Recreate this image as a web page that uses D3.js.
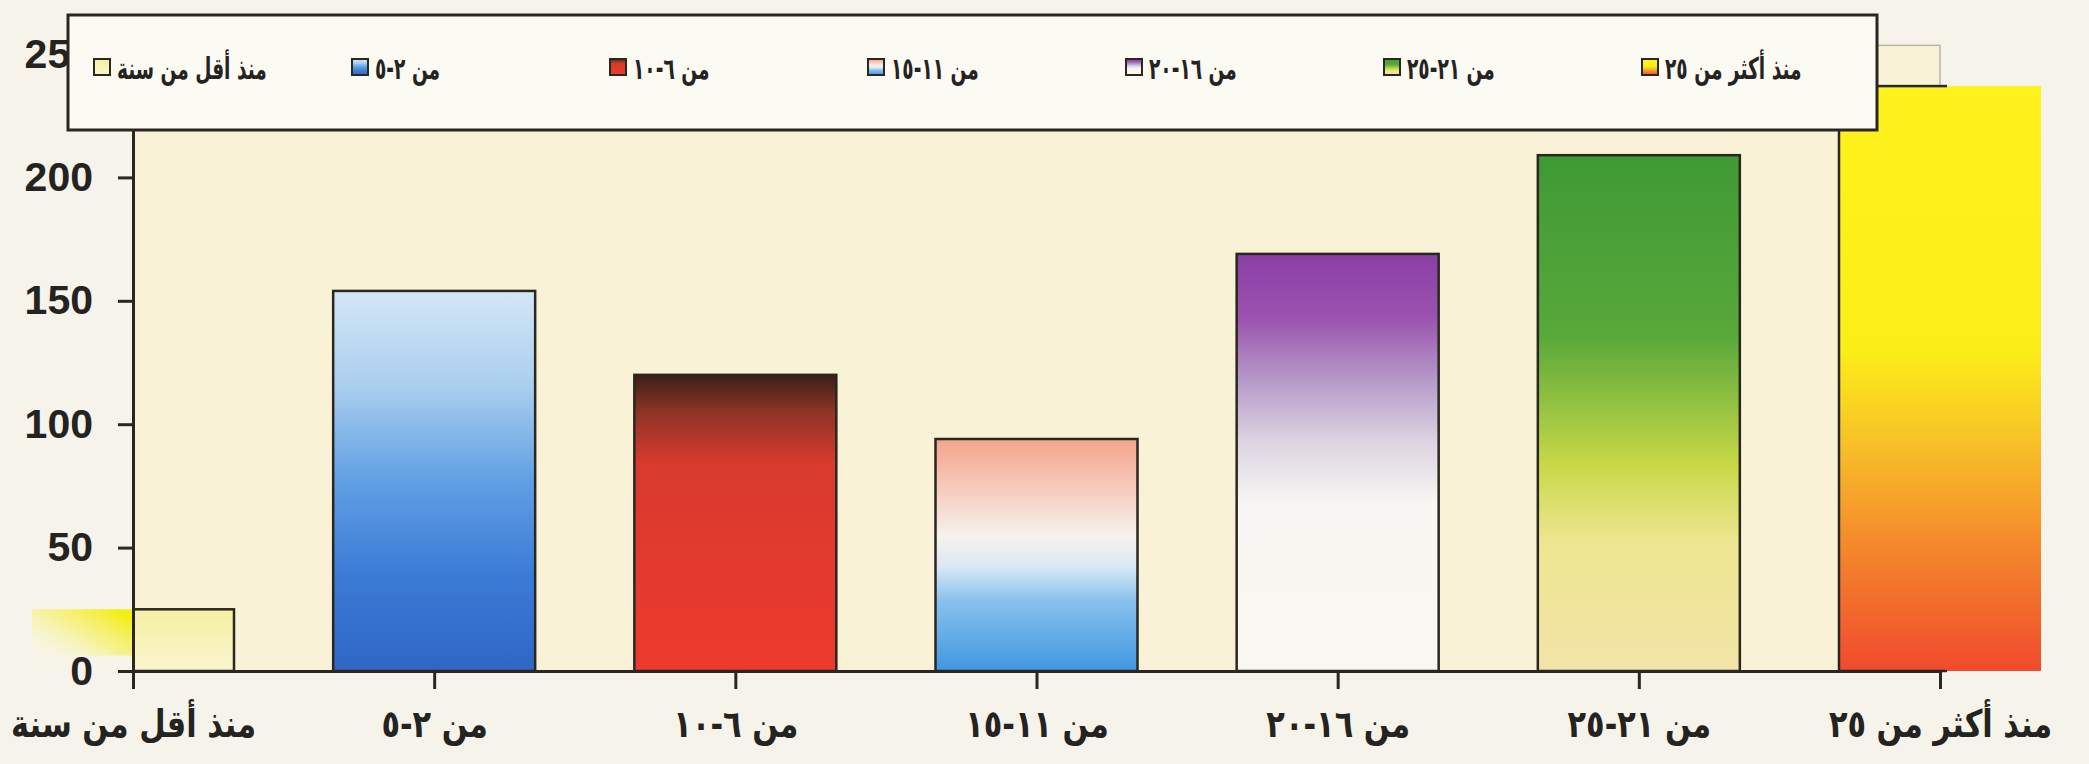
<!DOCTYPE html>
<html>
<head>
<meta charset="utf-8">
<script src="https://cdn.jsdelivr.net/npm/d3@7"></script>
<style>
  html, body { margin: 0; padding: 0; background: #f6f4ea; }
  svg { display: block; }
  text { font-weight: bold; fill: #25231f; }
  .num { font-family: "Liberation Sans", Arial, sans-serif; }
  .ar { font-family: "DejaVu Sans", sans-serif; }
</style>
</head>
<body>
<svg id="chart"></svg>
<script>
// data
const categories = ["منذ أقل من سنة", "من ٢-٥", "من ٦-١٠", "من ١١-١٥", "من ١٦-٢٠", "من ٢١-٢٥", "منذ أكثر من ٢٥"];
const values = [25, 154, 120, 94, 169, 209, 237];
const yTicks = [0, 50, 100, 150, 200, 250];
const legendLabels = categories;

// vertical gradient stops for each bar (top -> bottom)
const barGradients = [
  [[0, "#f5f0a2"], [1, "#faf5cf"]],
  [[0, "#d4e6f6"], [0.25, "#a9cfee"], [0.5, "#609fe3"], [0.75, "#3b7bd6"], [1, "#2f66c6"]],
  [[0, "#3b2018"], [0.12, "#8a3426"], [0.3, "#d83a2e"], [1, "#ee3a2e"]],
  [[0, "#f3a48c"], [0.2, "#f7c8b8"], [0.42, "#f6f2ee"], [0.55, "#d8e8f4"], [0.7, "#88c0ec"], [1, "#3f98e0"]],
  [[0, "#8b3fa6"], [0.15, "#9a52ae"], [0.3, "#b598c8"], [0.45, "#dcd4e2"], [0.6, "#f8f6f2"], [1, "#faf8f2"]],
  [[0, "#3f9a35"], [0.35, "#58a83a"], [0.6, "#c8d848"], [0.75, "#ede690"], [1, "#f3e4a8"]],
  [[0, "#fff21c"], [0.45, "#fcee18"], [0.6, "#f8c428"], [0.78, "#f48a2c"], [1, "#f04a2c"]]
];

const W = 2089, H = 764;
const svg = d3.select("#chart").attr("width", W).attr("height", H);
const defs = svg.append("defs");

const x = d3.scalePoint().domain(categories).range([133, 1940]);
const y = d3.scaleLinear().domain([0, 250]).range([671, 54]);
const barW = 202;

barGradients.forEach((stops, i) => {
  const g = defs.append("linearGradient").attr("id", "bar" + i)
    .attr("x1", 0).attr("y1", 0).attr("x2", 0).attr("y2", 1);
  stops.forEach(s => g.append("stop").attr("offset", s[0]).attr("stop-color", s[1]));
});

// first bar spills left of the axis as a fading yellow band
const spill = defs.append("linearGradient").attr("id", "spill")
  .attr("x1", 1).attr("y1", 0.2).attr("x2", 0).attr("y2", 1);
spill.append("stop").attr("offset", 0).attr("stop-color", "#f4ee10").attr("stop-opacity", 1);
spill.append("stop").attr("offset", 0.45).attr("stop-color", "#f6f070").attr("stop-opacity", 0.7);
spill.append("stop").attr("offset", 1).attr("stop-color", "#f8f4d0").attr("stop-opacity", 0);

const [x0, x1] = x.range();
defs.append("clipPath").attr("id", "plotClip").append("rect")
  .attr("x", x0).attr("y", y(256)).attr("width", x1 - x0 + 7).attr("height", y(0) - y(256) + 2);

// page + plot background
svg.append("rect").attr("width", W).attr("height", H).attr("fill", "#f6f4ea");
svg.append("rect").attr("x", x0).attr("y", y(253.5)).attr("width", x1 - x0)
  .attr("height", y(0) - y(253.5)).attr("fill", "#f9f2d6")
  .attr("stroke", "#b9b7a8").attr("stroke-width", 1.5);

// bar fills
svg.append("g").selectAll("rect").data(values).enter().append("rect")
  .attr("x", (d, i) => x(categories[i]) - barW / 2)
  .attr("y", d => y(d))
  .attr("width", barW)
  .attr("height", d => y(0) - y(d))
  .attr("fill", (d, i) => `url(#bar${i})`);

// left spill of first bar
svg.append("rect")
  .attr("x", x(categories[0]) - barW / 2).attr("y", y(values[0]))
  .attr("width", barW / 2).attr("height", y(0) - y(values[0]))
  .attr("fill", "#f7f5ea");
svg.append("rect")
  .attr("x", x(categories[0]) - barW / 2).attr("y", y(values[0]))
  .attr("width", barW / 2).attr("height", (y(0) - y(values[0])) * 0.75)
  .attr("fill", "url(#spill)");

// outlines only inside the plot area
svg.append("g").attr("clip-path", "url(#plotClip)")
  .selectAll("rect").data(values).enter().append("rect")
  .attr("x", (d, i) => x(categories[i]) - barW / 2)
  .attr("y", d => y(d))
  .attr("width", barW)
  .attr("height", d => y(0) - y(d))
  .attr("fill", "none")
  .attr("stroke", "#2a2620").attr("stroke-width", 2.5);

// axes
const yAxis = svg.append("g").attr("transform", `translate(${x0},0)`)
  .call(d3.axisLeft(y).tickValues(yTicks).tickSize(15).tickSizeOuter(0).tickPadding(25));
yAxis.selectAll("text").attr("class", "num").attr("font-size", 41).attr("font-family", null);

const xAxis = svg.append("g").attr("transform", `translate(0,${y(0)})`)
  .call(d3.axisBottom(x).tickSize(18).tickSizeOuter(0).tickPadding(21));
// the scan uses a narrower arabic face than DejaVu, so squeeze horizontally
xAxis.selectAll("text").attr("class", "ar").attr("font-size", 38).attr("font-family", null)
  .attr("transform", "scale(0.8,1)");

svg.selectAll(".domain, .tick line").attr("stroke", "#2a2620").attr("stroke-width", 3);
svg.selectAll(".tick text").attr("fill", "#25231f");

// legend box on top
const legend = svg.append("g");
legend.append("rect").attr("x", 68).attr("y", 15).attr("width", 1809).attr("height", 115)
  .attr("fill", "#fbfaf3").attr("stroke", "#2a2620").attr("stroke-width", 3);

const step = 258;
const items = legend.selectAll("g.item").data(legendLabels).enter().append("g")
  .attr("class", "item")
  .attr("transform", (d, i) => `translate(${94 + i * step},68)`);
items.append("rect").attr("x", 0).attr("y", -9).attr("width", 16).attr("height", 16)
  .attr("fill", (d, i) => `url(#bar${i})`).attr("stroke", "#2a2620").attr("stroke-width", 2);
items.append("text").attr("class", "ar")
  .attr("transform", "translate(23,11) scale(0.62,1)")
  .attr("font-size", 30)
  .text(d => d);
</script>
</body>
</html>
